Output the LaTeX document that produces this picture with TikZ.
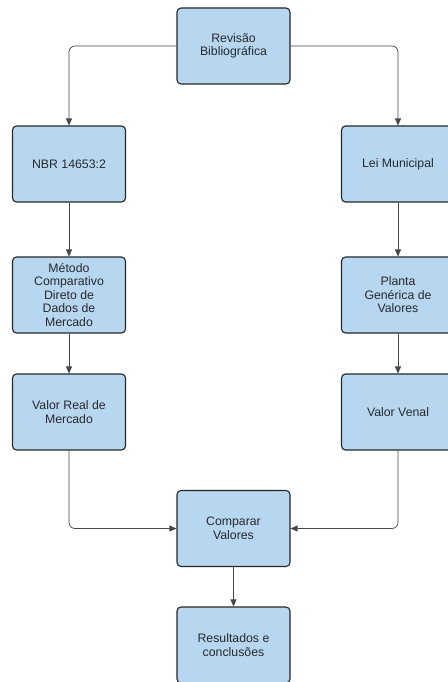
\documentclass[tikz,border=0pt]{standalone}
\usepackage{fontspec}
\setmainfont{Liberation Sans}
\usetikzlibrary{arrows.meta,positioning}
\definecolor{boxblue}{RGB}{183,215,240}
\definecolor{linegray}{RGB}{70,70,70}
\definecolor{textgray}{RGB}{40,40,45}

\begin{document}
\begin{tikzpicture}[x=1pt,y=-1pt,
    etapa/.style={draw=black!85, fill=boxblue, rounded corners=4pt, line width=1.1pt,
      minimum width=113pt, minimum height=76pt, align=center, text=textgray,
      font=\fontsize{12.3}{13.5}\selectfont},
    seta/.style={draw=linegray, line width=0.7pt, rounded corners=6pt,
      -{Triangle[length=7pt,width=6pt]}}]
    \useasboundingbox (0,0) rectangle (447,682);

    % top
    \node[etapa] (rev) at (233.5,46) {Revisão\\Bibliográfica};

    % left column
    \node[etapa] (nbr) at (69,164) {NBR 14653:2};
    \node[etapa] (mcd) at (69,295) {Método\\Comparativo\\Direto de\\Dados de\\Mercado};
    \node[etapa] (vrm) at (69,412) {Valor Real de\\Mercado};

    % right column
    \node[etapa] (lei) at (398,164) {Lei Municipal};
    \node[etapa] (pgv) at (398,295) {Planta\\Genérica de\\Valores};
    \node[etapa] (ven) at (398,412) {Valor Venal};

    % bottom
    \node[etapa] (cmp) at (233.5,528.5) {Comparar\\Valores};
    \node[etapa] (res) at (233.5,645) {Resultados e\\conclusões};

    \draw[seta] (rev.west) -| (nbr.north);
    \draw[seta] (rev.east) -| (lei.north);
    \draw[seta] (nbr) -- (mcd);
    \draw[seta] (mcd) -- (vrm);
    \draw[seta] (lei) -- (pgv);
    \draw[seta] (pgv) -- (ven);
    \draw[seta] (vrm.south) |- (cmp.west);
    \draw[seta] (ven.south) |- (cmp.east);
    \draw[seta] (cmp) -- (res);
\end{tikzpicture}
\end{document}
